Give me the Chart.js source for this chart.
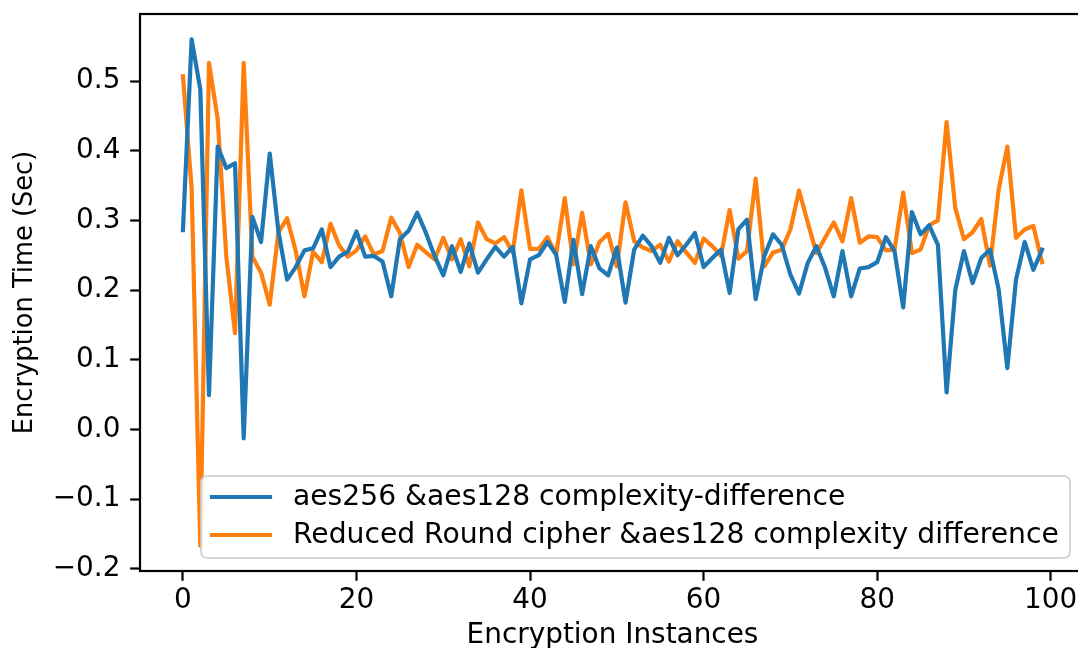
<!DOCTYPE html>
<html>
<head>
<meta charset="utf-8">
<script src="https://cdn.jsdelivr.net/npm/chart.js@4.4.1/dist/chart.umd.min.js"></script>
<style>
  html, body { margin: 0; padding: 0; background: #ffffff; overflow: hidden; width: 1078px; height: 648px; }
  canvas { display: block; }
</style>
</head>
<body>
<canvas id="c" width="1088" height="648"></canvas>
<script>
// ---- data ----
const seriesLabels = [
  "aes256 &aes128 complexity-difference",
  "Reduced Round cipher &aes128 complexity difference"
];
const aes256Diff = [
  0.286, 0.560, 0.488, 0.049, 0.406, 0.375, 0.382, -0.013, 0.305, 0.269,
  0.396, 0.284, 0.215, 0.233, 0.257, 0.260, 0.287, 0.233, 0.248, 0.255,
  0.284, 0.248, 0.249, 0.241, 0.191, 0.273, 0.285, 0.311, 0.282, 0.249,
  0.221, 0.263, 0.226, 0.267, 0.225, 0.244, 0.262, 0.248, 0.262, 0.181,
  0.244, 0.250, 0.269, 0.251, 0.183, 0.272, 0.194, 0.263, 0.231, 0.221,
  0.261, 0.182, 0.258, 0.278, 0.263, 0.239, 0.275, 0.250, 0.265, 0.282,
  0.233, 0.246, 0.258, 0.196, 0.287, 0.301, 0.187, 0.249, 0.280, 0.265,
  0.222, 0.195, 0.239, 0.263, 0.232, 0.191, 0.256, 0.191, 0.231, 0.233,
  0.240, 0.276, 0.256, 0.175, 0.312, 0.280, 0.293, 0.265, 0.053, 0.200,
  0.256, 0.210, 0.246, 0.258, 0.201, 0.088, 0.215, 0.269, 0.229, 0.258
];
const reducedRoundDiff = [
  0.507, 0.346, -0.167, 0.526, 0.446, 0.248, 0.138, 0.526, 0.248, 0.225,
  0.179, 0.283, 0.303, 0.256, 0.191, 0.255, 0.240, 0.295, 0.264, 0.248,
  0.257, 0.277, 0.251, 0.256, 0.304, 0.282, 0.233, 0.265, 0.254, 0.244,
  0.275, 0.244, 0.273, 0.234, 0.297, 0.273, 0.267, 0.276, 0.254, 0.343,
  0.259, 0.259, 0.276, 0.251, 0.332, 0.237, 0.311, 0.237, 0.269, 0.281,
  0.234, 0.326, 0.270, 0.261, 0.256, 0.265, 0.241, 0.270, 0.254, 0.239,
  0.274, 0.263, 0.249, 0.315, 0.245, 0.256, 0.360, 0.234, 0.254, 0.258,
  0.287, 0.343, 0.297, 0.253, 0.275, 0.297, 0.270, 0.332, 0.268, 0.277,
  0.276, 0.257, 0.258, 0.340, 0.253, 0.258, 0.293, 0.300, 0.441, 0.318,
  0.273, 0.283, 0.302, 0.235, 0.344, 0.406, 0.275, 0.287, 0.292, 0.240
];
const xTickValues = [0, 20, 40, 60, 80, 100];
const yTickValues = [-0.2, -0.1, 0.0, 0.1, 0.2, 0.3, 0.4, 0.5];
const xTitle = "Encryption Instances";
const yTitle = "Encryption Time (Sec)";
const colors = ["#1f77b4", "#ff7f0e"];

// ---- chart ----
const FONT = "DejaVu Sans";
const toPoints = arr => arr.map((v, i) => ({ x: i, y: v }));

const frameAndLegend = {
  id: 'frameAndLegend',
  afterDatasetsDraw(chart) {
    const ctx = chart.ctx;
    const a = chart.chartArea;
    ctx.save();
    ctx.strokeStyle = '#000000';
    ctx.lineWidth = 2.2;
    ctx.strokeRect(a.left, a.top, a.right - a.left, a.bottom - a.top);

    const bx = 201, by = 476, bw = 869, bh = 82, r = 7;
    ctx.beginPath();
    ctx.moveTo(bx + r, by);
    ctx.lineTo(bx + bw - r, by);
    ctx.quadraticCurveTo(bx + bw, by, bx + bw, by + r);
    ctx.lineTo(bx + bw, by + bh - r);
    ctx.quadraticCurveTo(bx + bw, by + bh, bx + bw - r, by + bh);
    ctx.lineTo(bx + r, by + bh);
    ctx.quadraticCurveTo(bx, by + bh, bx, by + bh - r);
    ctx.lineTo(bx, by + r);
    ctx.quadraticCurveTo(bx, by, bx + r, by);
    ctx.closePath();
    ctx.fillStyle = 'rgba(255,255,255,0.8)';
    ctx.fill();
    ctx.strokeStyle = 'rgba(204,204,204,0.8)';
    ctx.lineWidth = 2;
    ctx.stroke();

    const rows = [497, 535];
    ctx.font = '28.2px "' + FONT + '"';
    ctx.textBaseline = 'middle';
    ctx.textAlign = 'left';
    chart.data.datasets.forEach((ds, i) => {
      const y = rows[i];
      ctx.strokeStyle = ds.borderColor;
      ctx.lineWidth = 4.2;
      ctx.lineCap = 'square';
      ctx.beginPath();
      ctx.moveTo(212, y);
      ctx.lineTo(270, y);
      ctx.stroke();
      ctx.fillStyle = '#000000';
      ctx.fillText(ds.label, 293, y + 1);
    });
    ctx.restore();
  }
};

new Chart(document.getElementById('c'), {
  type: 'line',
  data: {
    datasets: [
      { label: seriesLabels[0], data: toPoints(aes256Diff), borderColor: colors[0], backgroundColor: colors[0] },
      { label: seriesLabels[1], data: toPoints(reducedRoundDiff), borderColor: colors[1], backgroundColor: colors[1] }
    ]
  },
  options: {
    responsive: false,
    animation: false,
    devicePixelRatio: 1,
    layout: { padding: { left: 0, top: 14, right: 3, bottom: 0 } },
    elements: {
      line: { borderWidth: 4.2, tension: 0, borderJoinStyle: 'round', borderCapStyle: 'square', fill: false },
      point: { radius: 0, hoverRadius: 0 }
    },
    plugins: {
      legend: { display: false },
      tooltip: { enabled: false }
    },
    scales: {
      x: {
        type: 'linear',
        min: -4.95,
        max: 103.95,
        afterFit(scale) { scale.height = 77; scale.paddingLeft = 0; scale.paddingRight = 0; },
        afterBuildTicks(scale) { scale.ticks = xTickValues.map(v => ({ value: v })); },
        border: { display: false },
        grid: { display: true, drawOnChartArea: false, drawTicks: true, tickLength: 9.8, tickWidth: 2.2, tickColor: '#000000' },
        ticks: {
          padding: 6,
          color: '#000000',
          font: { family: FONT, size: 27.9, lineHeight: 1.0 },
          maxRotation: 0,
          callback: v => String(v)
        },
        title: {
          display: true,
          text: xTitle,
          color: '#000000',
          font: { family: FONT, size: 27.9, lineHeight: 1.0 },
          padding: { top: 0, bottom: -2 }
        }
      },
      y: {
        type: 'linear',
        min: -0.2033,
        max: 0.5963,
        afterFit(scale) { scale.width = 140; scale.paddingTop = 0; scale.paddingBottom = 0; },
        afterBuildTicks(scale) { scale.ticks = yTickValues.map(v => ({ value: v })); },
        border: { display: false },
        grid: { display: true, drawOnChartArea: false, drawTicks: true, tickLength: 9.8, tickWidth: 2.2, tickColor: '#000000' },
        ticks: {
          padding: 9.8,
          color: '#000000',
          font: { family: FONT, size: 27.9, lineHeight: 1.0 },
          callback: v => v.toFixed(1).replace('-', '\u2212')
        },
        title: {
          display: true,
          text: yTitle,
          color: '#000000',
          font: { family: FONT, size: 25.7, lineHeight: 1.0 },
          padding: { top: 12, bottom: 0 }
        }
      }
    }
  },
  plugins: [frameAndLegend]
});
</script>
</body>
</html>
